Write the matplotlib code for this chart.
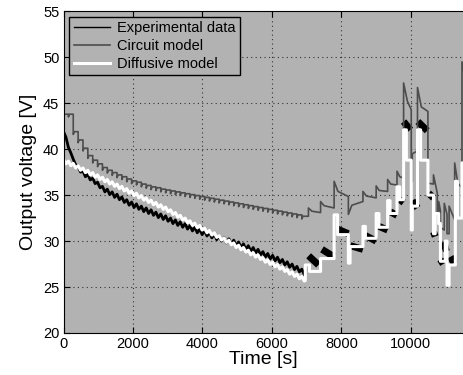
import numpy as np
import matplotlib
matplotlib.use('Agg')
import matplotlib.pyplot as plt

plt.rcParams['font.family'] = ['Liberation Sans', 'DejaVu Sans']

# --- phase 1 : decharge pulsee, une impulsion toutes les 140 s ---
pas = 140
t_impulsions = np.arange(0, 7000, pas)

# modele circuit (gris), niveau apres chaque impulsion
gris_1 = [43.8, 43.8, 41.9, 41.0, 40.1, 39.3, 38.8, 38.4, 38.0, 37.7,
          37.45, 37.2, 37.0, 36.75, 36.55, 36.4, 36.2, 36.05, 35.9, 35.8,
          35.65, 35.55, 35.45, 35.35, 35.25, 35.15, 35.05, 34.95, 34.85, 34.75,
          34.65, 34.55, 34.45, 34.35, 34.25, 34.15, 34.05, 33.95, 33.85, 33.75,
          33.65, 33.55, 33.45, 33.35, 33.25, 33.15, 33.05, 32.95, 32.85, 32.7]

# modele diffusif (blanc), haut de chaque dent
blanc_1 = [38.9, 38.7, 38.45, 38.2, 37.95, 37.7, 37.45, 37.2, 36.95, 36.7,
           36.45, 36.2, 35.95, 35.7, 35.45, 35.2, 34.95, 34.7, 34.45, 34.2,
           33.95, 33.7, 33.4, 33.1, 32.8, 32.5, 32.2, 31.95, 31.7, 31.4,
           31.15, 30.9, 30.6, 30.35, 30.1, 29.8, 29.55, 29.3, 29.0, 28.75,
           28.5, 28.2, 27.95, 27.7, 27.45, 27.2, 26.9, 26.65, 26.4, 26.15]

# mesures (noir), milieu de la bande
noir_1 = [41.6, 39.9, 38.6, 37.8, 37.3, 36.95, 36.55, 36.1, 35.65, 35.35,
          35.05, 34.8, 34.5, 34.2, 33.95, 33.75, 33.5, 33.3, 33.1, 32.85,
          32.65, 32.45, 32.2, 32.0, 31.8, 31.6, 31.4, 31.2, 31.0, 30.85,
          30.65, 30.45, 30.3, 30.1, 29.95, 29.8, 29.6, 29.4, 29.2, 29.0,
          28.8, 28.55, 28.35, 28.15, 27.95, 27.7, 27.45, 27.2, 26.95, 26.65]

# --- phase 2 : echelons de courant ---
gris_2_t = [6920, 7050, 7050, 7150, 7400, 7400, 7500, 7790, 7790, 7900, 8200,
            8200, 8300, 8620, 8620, 8720, 9000, 9000, 9090, 9330, 9330, 9420,
            9600, 9600, 9680, 9790, 9790, 9900, 10010, 10010, 10040, 10040,
            10190, 10190, 10300, 10490, 10490, 10650, 10650, 10760, 10760,
            10800, 10800, 10850, 10850, 10960, 10960, 11040, 11040, 11100,
            11100, 11260, 11260, 11350, 11470, 11470, 11520]
gris_2_v = [32.7, 32.7, 33.6, 33.25, 33.1, 34.3, 33.85, 33.6, 36.5, 35.4, 34.85,
            32.9, 33.9, 34.3, 35.4, 34.9, 34.7, 36.0, 35.5, 35.4, 36.7, 36.2,
            36.1, 37.6, 37.0, 36.85, 47.2, 45.2, 44.3, 36.5, 36.5, 39.5,
            39.8, 46.7, 44.6, 44.1, 36.3, 36.2, 37.2, 35.2, 33.0,
            33.0, 34.3, 33.3, 31.5, 31.2, 34.1, 32.9, 30.8, 30.8,
            33.8, 32.3, 38.5, 36.3, 35.8, 49.5, 48.5]

blanc_2_t = [6960, 6960, 7080, 7080, 7400, 7400, 7790, 7790, 7890, 7890, 8200,
             8200, 8250, 8250, 8620, 8620, 8690, 8690, 9000, 9000, 9080, 9080,
             9330, 9330, 9400, 9400, 9600, 9600, 9680, 9680, 9790, 9790, 9870,
             9870, 10010, 10010, 10040, 10040, 10190, 10190, 10280, 10280,
             10490, 10490, 10650, 10650, 10700, 10700, 10800, 10800, 10850,
             10850, 10990, 10990, 11040, 11040, 11100, 11100, 11280, 11280,
             11340, 11340, 11470, 11470, 11520]
blanc_2_v = [25.7, 27.4, 27.4, 26.7, 26.7, 28.1, 28.1, 32.85, 32.85, 30.7, 30.7,
             27.6, 27.6, 29.4, 29.4, 31.6, 31.6, 30.3, 30.3, 33.0, 33.0, 31.5,
             31.5, 34.4, 34.4, 33.0, 33.0, 35.9, 35.9, 34.5, 34.5, 42.1, 42.1,
             38.8, 38.8, 31.2, 31.2, 33.8, 33.8, 42.1, 42.1, 38.8,
             38.8, 35.0, 35.0, 30.8, 30.8, 33.0, 33.0, 31.9, 31.9,
             27.8, 27.8, 30.0, 30.0, 25.2, 25.2, 27.4, 27.4, 36.5,
             36.5, 32.5, 32.5, 38.5, 38.5]

# paquets d'oscillations mesurees : debut, fin, tension debut, tension fin
noir_2_debut = [7056, 7440, 7890, 8257, 8690, 9080, 9400, 9680, 9790, 10040,
                10200, 10510, 10650, 10850, 10950, 11140]
noir_2_fin = [7340, 7780, 8200, 8620, 9000, 9330, 9600, 9790, 9985, 10190,
              10470, 10650, 10700, 10930, 11020, 11240]
noir_2_v0 = [28.4, 29.1, 31.3, 29.5, 30.6, 31.6, 33.2, 34.5, 43.0, 34.4,
             43.0, 35.2, 31.0, 28.0, 29.9, 28.3]
noir_2_v1 = [27.4, 28.3, 30.8, 29.1, 30.0, 31.2, 32.8, 34.2, 42.1, 33.6,
             42.0, 34.7, 30.5, 27.5, 28.9, 27.6]

# construction des traces
xg, yg = [t_impulsions[0]], [gris_1[0]]
for i in range(1, len(t_impulsions)):
    t = t_impulsions[i]
    xg += [t, t, t + 30]
    yg += [gris_1[i-1], gris_1[i] - 0.3, gris_1[i]]
xg += gris_2_t
yg += gris_2_v

xb, yb = [], []
for i in range(len(t_impulsions)):
    xb += [t_impulsions[i], t_impulsions[i] + pas / 2]
    yb += [blanc_1[i], blanc_1[i] - 0.5]
xb += blanc_2_t
yb += blanc_2_v

xn, yn = [], []
for i in range(len(t_impulsions)):
    xn += [t_impulsions[i], t_impulsions[i] + pas / 2]
    yn += [noir_1[i] + 0.3, noir_1[i] - 0.3]

fig = plt.figure(figsize=(4.63, 3.75), dpi=100)
ax = fig.add_axes([0.1372, 0.112, 0.8628, 0.858])
ax.set_facecolor('#b2b2b2')

ax.plot(xn, yn, color='black', lw=2.0, label='Experimental data')
for i in range(len(noir_2_debut)):
    ax.plot([noir_2_debut[i], noir_2_fin[i]], [noir_2_v0[i], noir_2_v1[i]],
            color='black', lw=5, solid_capstyle='butt')
ax.plot(xg, yg, color='#4d4d4d', lw=1.2, label='Circuit model')
ax.plot(xb, yb, color='white', lw=2.2, label='Diffusive model')

ax.set_xlim(0, 11500)
ax.set_ylim(20, 55)
ax.set_xticks([0, 2000, 4000, 6000, 8000, 10000])
ax.set_yticks([20, 25, 30, 35, 40, 45, 50, 55])
ax.grid(True, color='#333333', linestyle=(0, (1, 3)), lw=0.8)
ax.tick_params(direction='in', length=4, top=True, right=False, labelsize=10.5, pad=3)
ax.spines['right'].set_visible(False)
ax.set_xlabel('Time [s]', fontsize=14, labelpad=0)
ax.set_ylabel('Output voltage [V]', fontsize=14, labelpad=4)

leg = ax.legend(loc='upper left', fontsize=10.5, fancybox=False, framealpha=1,
                facecolor='#b2b2b2', edgecolor='black', labelspacing=0.25,
                borderpad=0.3, handlelength=2.5, handletextpad=0.5, borderaxespad=0.4)
leg.get_frame().set_linewidth(1.0)
leg.get_lines()[0].set_linewidth(1.0)

fig.savefig('out.png', dpi=100)
